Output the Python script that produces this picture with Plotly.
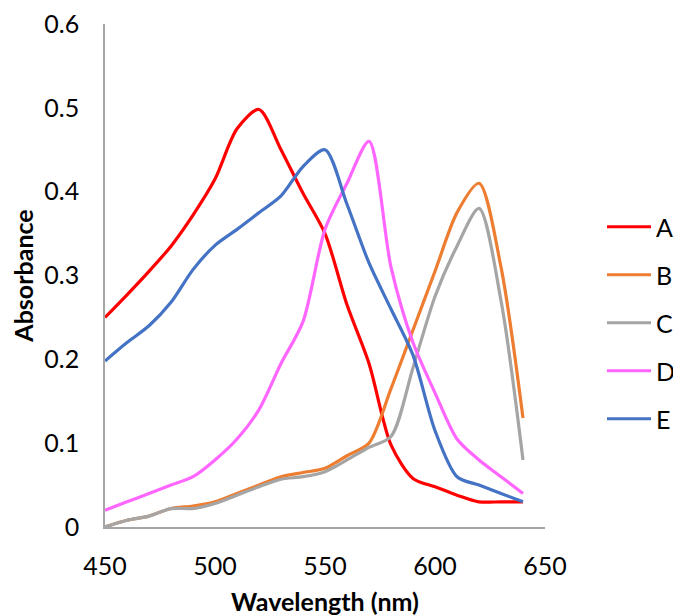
import plotly.graph_objects as go

wavelength = [450, 460, 470, 480, 490, 500, 510, 520, 530, 540, 550, 560, 570, 580, 590, 600, 610, 620, 630, 640]

series_names = ["A", "B", "C", "D", "E"]
A = [0.250, 0.277, 0.305, 0.335, 0.372, 0.415, 0.475, 0.498, 0.450, 0.398, 0.350, 0.265, 0.195, 0.098, 0.058, 0.048, 0.038, 0.030, 0.030, 0.030]
B = [0.000, 0.008, 0.013, 0.022, 0.025, 0.030, 0.040, 0.050, 0.060, 0.065, 0.070, 0.085, 0.100, 0.165, 0.235, 0.305, 0.375, 0.410, 0.310, 0.130]
C = [0.000, 0.008, 0.013, 0.022, 0.022, 0.028, 0.038, 0.048, 0.057, 0.060, 0.066, 0.080, 0.095, 0.108, 0.190, 0.275, 0.335, 0.380, 0.270, 0.080]
D = [0.020, 0.030, 0.040, 0.050, 0.060, 0.080, 0.105, 0.140, 0.195, 0.245, 0.355, 0.410, 0.460, 0.310, 0.220, 0.160, 0.105, 0.080, 0.060, 0.040]
E = [0.198, 0.220, 0.240, 0.268, 0.307, 0.336, 0.355, 0.375, 0.395, 0.430, 0.450, 0.385, 0.315, 0.260, 0.205, 0.115, 0.060, 0.050, 0.040, 0.030]

colors = ["#FF0000", "#ED7D31", "#A5A5A5", "#FF66FF", "#4472C4"]

x_ticks = [450, 500, 550, 600, 650]
y_ticks = [0, 0.1, 0.2, 0.3, 0.4, 0.5, 0.6]

FONT = "Lato"
FS = 25

fig = go.Figure()
for name, ys, col in zip(series_names, [A, B, C, D, E], colors):
    fig.add_trace(go.Scatter(
        x=wavelength, y=ys, name=name, mode="lines",
        line=dict(color=col, width=3.2, shape="spline", smoothing=0.8),
        legendgroup=name,
    ))

W, H = 673, 608
fig.update_layout(
    width=W, height=H,
    margin=dict(l=97, r=136, t=16, b=89),
    paper_bgcolor="white", plot_bgcolor="white",
    font=dict(family=FONT, size=FS, color="black"),
    showlegend=True,
    legend=dict(
        xref="container", yref="container",
        x=594 / W, y=1 - 315 / H, xanchor="left", yanchor="middle",
        font=dict(family=FONT, size=FS, color="black"),
        traceorder="grouped", tracegroupgap=12.5,
        itemwidth=44,
        bgcolor="rgba(0,0,0,0)",
    ),
    xaxis=dict(
        range=[450, 650], tickvals=x_ticks, ticktext=[str(v) for v in x_ticks],
        showgrid=False, zeroline=False, automargin=False,
        showline=True, linecolor="#A6A6A6", linewidth=1.5,
        ticks="", ticklabelstandoff=16, ticklabeloverflow="allow",
        tickfont=dict(family=FONT, size=FS),
        title=dict(text="<b>Wavelength (nm)</b>", font=dict(family=FONT, size=FS), standoff=15),
    ),
    yaxis=dict(
        range=[0, 0.6], tickvals=y_ticks, ticktext=["0", "0.1", "0.2", "0.3", "0.4", "0.5", "0.6"],
        showgrid=False, zeroline=False, automargin=False,
        showline=True, linecolor="#A6A6A6", linewidth=1.5,
        ticks="", ticklabelstandoff=19, ticklabeloverflow="allow",
        tickfont=dict(family=FONT, size=FS),
        title=dict(text="<b>Absorbance</b>", font=dict(family=FONT, size=FS), standoff=10),
    ),
)

fig.write_html("out.html")
